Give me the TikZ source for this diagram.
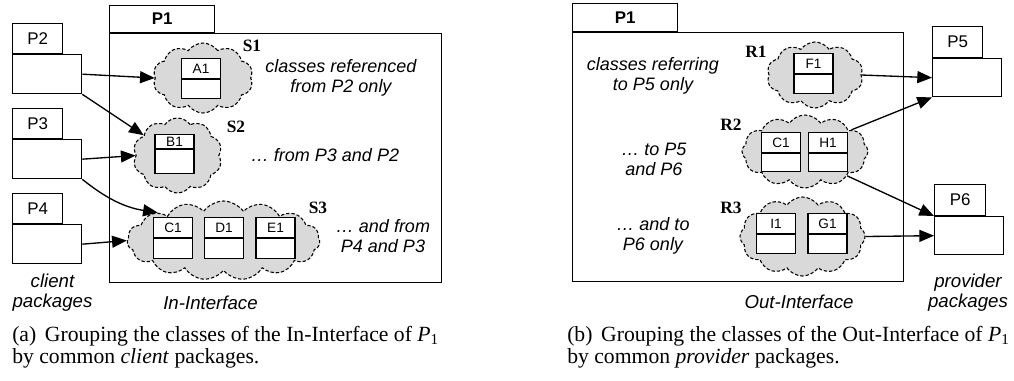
\documentclass[tikz,border=0pt]{standalone}
\usepackage{fontspec}
\setmainfont{Liberation Serif}
\setsansfont{Liberation Sans}
\usetikzlibrary{shapes.symbols,arrows.meta}
\newcommand\pxu[1]{#1*0.75pt}
\begin{document}
\begin{tikzpicture}[x=0.75pt,y=-0.75pt,
  pkgtab/.style={draw, line width=1pt, fill=white, anchor=south west, inner sep=0pt, font=\sffamily\fontsize{12.7}{14}\selectfont},
  pkgbody/.style={draw, line width=1pt, fill=white, anchor=north west, inner sep=0pt},
  ptab/.style={pkgtab, font=\sffamily\bfseries\fontsize{12.7}{14}\selectfont},
  cloudst/.style={cloud, cloud ignores aspect, draw, dash pattern=on 2.5pt off 1.5pt, fill=gray!30, line width=0.8pt, cloud puffs=#1, cloud puff arc=110, inner sep=0pt},
  clstop/.style={draw, fill=white, line width=1pt, anchor=south, inner sep=0pt, minimum width=\pxu{39}, font=\sffamily\fontsize{10.2}{12}\selectfont},
  clsbot/.style={draw, fill=white, line width=1pt, anchor=north, inner sep=0pt, minimum width=\pxu{39}},
  slabel/.style={font=\bfseries\fontsize{13}{15}\selectfont, inner sep=0pt},
  itext/.style={font=\sffamily\itshape\fontsize{13.5}{15}\selectfont, align=center, inner sep=0pt},
  btext/.style={font=\sffamily\itshape\fontsize{14}{15}\selectfont, align=center, inner sep=0pt},
  capt/.style={font=\fontsize{16.25}{16.5}\selectfont, inner sep=0pt, anchor=base west},
  arr/.style={-{Triangle[length=11pt,width=9pt]}, line width=1pt}
]
\useasboundingbox[fill=white] (0,0) rectangle (1014,380);

% ---------- left panel ----------
\node[ptab, minimum width=\pxu{105}, minimum height=\pxu{27}] (P1at) at (109,33) {P1};
\node[pkgbody, minimum width=\pxu{332}, minimum height=\pxu{249}] (P1a) at (109,33) {};

\node[pkgtab, minimum width=\pxu{50}, minimum height=\pxu{30}] (P2t) at (12,54) {P2};
\node[pkgbody, minimum width=\pxu{69}, minimum height=\pxu{39}] (P2) at (12,54) {};
\node[pkgtab, minimum width=\pxu{50}, minimum height=\pxu{30}] (P3t) at (12,139) {P3};
\node[pkgbody, minimum width=\pxu{69}, minimum height=\pxu{39}] (P3) at (12,139) {};
\node[pkgtab, minimum width=\pxu{50}, minimum height=\pxu{30}] (P4t) at (12,224) {P4};
\node[pkgbody, minimum width=\pxu{69}, minimum height=\pxu{39}] (P4) at (12,224) {};

\node[cloudst=10, minimum width=\pxu{100}, minimum height=\pxu{70}] (S1) at (203,78) {};
\node[cloudst=10, minimum width=\pxu{89}, minimum height=\pxu{75}] (S2) at (177.5,155.5) {};
\node[cloudst=15, minimum width=\pxu{193}, minimum height=\pxu{79}] (S3) at (223.5,240.5) {};

\node[clstop, minimum height=\pxu{20}] (A1) at (201,79) {A1};
\node[clsbot, minimum height=\pxu{19}] (A1b) at (201,79) {};
\node[clstop, minimum height=\pxu{14}] (B1) at (174.5,149) {B1};
\node[clsbot, minimum height=\pxu{24}] (B1b) at (174.5,149) {};
\node[clstop, minimum height=\pxu{20}] (C1) at (173,238) {C1};
\node[clsbot, minimum height=\pxu{20}] (C1b) at (173,238) {};
\node[clstop, minimum height=\pxu{20}] (D1) at (224,238) {D1};
\node[clsbot, minimum height=\pxu{20}] (D1b) at (224,238) {};
\node[clstop, minimum height=\pxu{20}] (E1) at (275.5,238) {E1};
\node[clsbot, minimum height=\pxu{20}] (E1b) at (275.5,238) {};

\node[slabel] (S1l) at (252,46) {S1};
\node[slabel] (S2l) at (236,127) {S2};
\node[slabel] (S3l) at (318,208) {S3};

\node[itext] (t1) at (341,78) {classes referenced\\from P2 only};
\node[itext] (t2) at (325,155) {… from P3 and P2};
\node[itext] (t3) at (383,236.5) {… and from\\P4 and P3};
\node[btext] (t4) at (52.5,293) {client\\packages};
\node[btext] (t5) at (210.5,303) {In-Interface};

\draw[arr] (P2.east) -- (S1.west);
\draw[arr] (P2.south east) -- (S2.149);
\draw[arr] (P3.east) -- (S2.west);
\draw[arr] (P3.south east) to[bend right=15] (S3.157);
\draw[arr] (P4.east) -- (S3.west);

\node[capt] (capa1) at (12,341) {(a)\hskip0.4em Grouping the classes of the In-Interface of \textit{P}\textsubscript{1}};
\node[capt] (capa2) at (12,363) {by common \textit{client} packages.};

% ---------- right panel ----------
\node[ptab, minimum width=\pxu{105}, minimum height=\pxu{28}] (P1bt) at (572,32) {P1};
\node[pkgbody, minimum width=\pxu{331}, minimum height=\pxu{249}] (P1b) at (572,32) {};

\node[pkgtab, minimum width=\pxu{50}, minimum height=\pxu{31}] (P5t) at (932,58) {P5};
\node[pkgbody, minimum width=\pxu{69}, minimum height=\pxu{38}] (P5) at (932,58) {};
\node[pkgtab, minimum width=\pxu{51}, minimum height=\pxu{31}] (P6t) at (934,216) {P6};
\node[pkgbody, minimum width=\pxu{69}, minimum height=\pxu{38}] (P6) at (934,216) {};

\node[cloudst=10, minimum width=\pxu{96}, minimum height=\pxu{66}] (R1) at (815,75) {};
\node[cloudst=12, minimum width=\pxu{126}, minimum height=\pxu{73}] (R2) at (805,151.5) {};
\node[cloudst=12, minimum width=\pxu{125}, minimum height=\pxu{79}] (R3) at (802.5,236.5) {};

\node[clstop, minimum height=\pxu{20}] (F1) at (813.5,74) {F1};
\node[clsbot, minimum height=\pxu{19}] (F1b) at (813.5,74) {};
\node[clstop, minimum height=\pxu{20}] (C1r) at (781,153) {C1};
\node[clsbot, minimum height=\pxu{18}] (C1rb) at (781,153) {};
\node[clstop, minimum height=\pxu{20}] (H1) at (828,153) {H1};
\node[clsbot, minimum height=\pxu{18}] (H1b) at (828,153) {};
\node[clstop, minimum height=\pxu{20}] (I1) at (776,234) {I1};
\node[clsbot, minimum height=\pxu{19}] (I1b) at (776,234) {};
\node[clstop, minimum height=\pxu{20}] (G1) at (827.5,234) {G1};
\node[clsbot, minimum height=\pxu{19}] (G1b) at (827.5,234) {};

\node[slabel] (R1l) at (756,52) {R1};
\node[slabel] (R2l) at (731,125) {R2};
\node[slabel] (R3l) at (731,208) {R3};

\node[itext] (u1) at (653,75.5) {classes referring\\to P5 only};
\node[itext] (u2) at (654,159.5) {… to P5\\and P6};
\node[itext] (u3) at (653,236) {… and to\\P6 only};
\node[btext] (u4) at (968,293) {provider\\packages};
\node[btext] (u5) at (799,302) {Out-Interface};

\draw[arr] (R1.east) -- (P5.west);
\draw[arr] (R2.25) -- (P5.south west);
\draw[arr] (R2.-30) -- (P6.north west);
\draw[arr] (R3.east) -- (P6.west);

\node[capt] (capb1) at (567,341) {(b)\hskip0.4em Grouping the classes of the Out-Interface of \textit{P}\textsubscript{1}};
\node[capt] (capb2) at (567,363) {by common \textit{provider} packages.};
\end{tikzpicture}
\end{document}
